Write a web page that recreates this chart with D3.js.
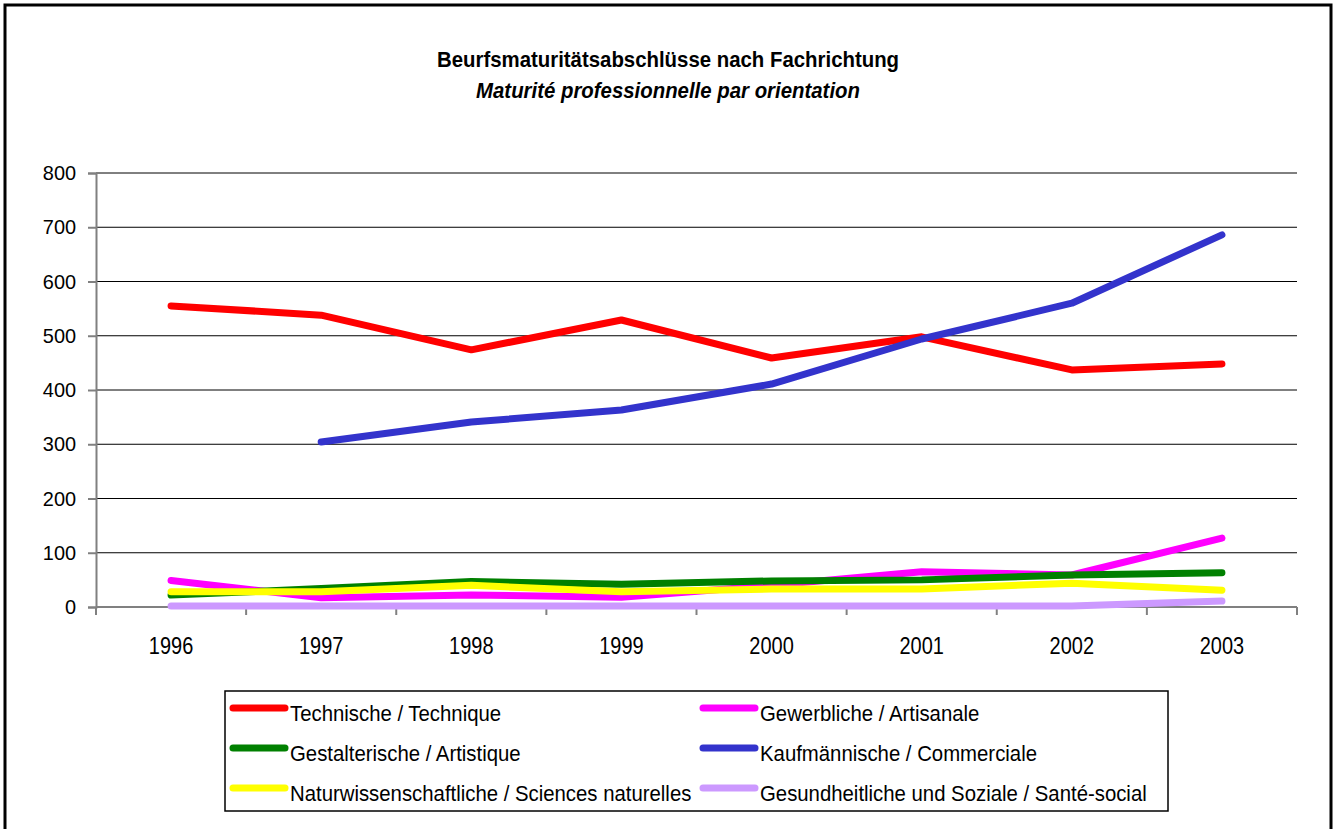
<!DOCTYPE html>
<html>
<head>
<meta charset="utf-8">
<script src="https://cdn.jsdelivr.net/npm/d3@7"></script>
<style>
  body { margin: 0; background: #fff; }
  text { font-family: "Liberation Sans", Arial, sans-serif; }
</style>
</head>
<body>
<script>
var years = ["1996", "1997", "1998", "1999", "2000", "2001", "2002", "2003"];
var yTicks = [0, 100, 200, 300, 400, 500, 600, 700, 800];

var technische      = [555, 538, 474, 529, 459, 498, 437, 448];
var gewerbliche     = [49, 17, 22, 18, 40, 65, 59, 127];
var gestalterische  = [22, 34, 47, 42, 48, 50, 59, 63];
var kaufmaennische  = [null, 304, 341, 363, 411, 494, 560, 686];
var naturwiss       = [28, 28, 40, 28, 33, 33, 44, 31];
var gesundheit      = [2, 2, 2, 2, 2, 2, 2, 11];

var seriesNames = [
  "Technische / Technique",
  "Gewerbliche / Artisanale",
  "Gestalterische / Artistique",
  "Kaufmännische / Commerciale",
  "Naturwissenschaftliche / Sciences naturelles",
  "Gesundheitliche und Soziale / Santé-social"
];
var seriesValues = [technische, gewerbliche, gestalterische, kaufmaennische, naturwiss, gesundheit];
var seriesColors = ["#ff0000", "#ff00ff", "#008000", "#3333cc", "#ffff00", "#cc99ff"];

var svg = d3.select("body").append("svg")
    .attr("width", 1338)
    .attr("height", 829);

// outer frame
svg.append("rect")
    .attr("x", 5).attr("y", 5)
    .attr("width", 1326).attr("height", 840)
    .attr("fill", "none")
    .attr("stroke", "#000")
    .attr("stroke-width", 3);

// the original text is drawn taller than wide, so squeeze it a bit
svg.append("text")
    .attr("transform", "translate(668,67) scale(0.887,1)")
    .attr("text-anchor", "middle")
    .attr("font-size", "23px")
    .attr("font-weight", "bold")
    .text("Beurfsmaturitätsabschlüsse nach Fachrichtung");

svg.append("text")
    .attr("transform", "translate(668,98) scale(0.887,1)")
    .attr("text-anchor", "middle")
    .attr("font-size", "23px")
    .attr("font-weight", "bold")
    .attr("font-style", "italic")
    .text("Maturité professionnelle par orientation");

var x = d3.scaleBand().domain(years).range([96, 1297]);
var y = d3.scaleLinear().domain([0, 800]).range([607, 173]);

// gridlines
svg.append("g").selectAll("line")
    .data(yTicks.slice(1))
    .enter().append("line")
    .attr("x1", 96).attr("x2", 1297)
    .attr("y1", function(d) { return y(d); })
    .attr("y2", function(d) { return y(d); })
    .attr("stroke", "#000")
    .attr("stroke-width", 1);

// y axis
var yAxis = svg.append("g")
    .attr("transform", "translate(96,0)")
    .call(d3.axisLeft(y).tickValues(yTicks).tickSize(8).tickPadding(13));
yAxis.selectAll("line, path").attr("stroke", "#808080").attr("stroke-width", 2);
yAxis.selectAll("text")
    .attr("font-size", "21px")
    .attr("fill", "#000")
    .attr("transform", "scale(0.95,1)");

// x axis, ticks between categories
var xAxis = svg.append("g")
    .attr("transform", "translate(0,607)");
xAxis.append("line")
    .attr("x1", 96).attr("x2", 1297)
    .attr("y1", 0).attr("y2", 0)
    .attr("stroke", "#808080").attr("stroke-width", 2);
xAxis.selectAll(".tk")
    .data(years.concat(["end"]))
    .enter().append("line")
    .attr("class", "tk")
    .attr("x1", function(d, i) { return i < years.length ? x(d) : x(years[years.length - 1]) + x.bandwidth(); })
    .attr("x2", function(d, i) { return i < years.length ? x(d) : x(years[years.length - 1]) + x.bandwidth(); })
    .attr("y1", 0).attr("y2", 8)
    .attr("stroke", "#808080").attr("stroke-width", 2);
xAxis.selectAll(".lbl")
    .data(years)
    .enter().append("text")
    .attr("class", "lbl")
    .attr("transform", function(d) { return "translate(" + (x(d) + x.bandwidth() / 2) + ",47) scale(0.85,1)"; })
    .attr("text-anchor", "middle")
    .attr("font-size", "23.5px")
    .text(function(d) { return d; });

var line = d3.line()
    .defined(function(d) { return d != null; })
    .x(function(d, i) { return x(years[i]) + x.bandwidth() / 2; })
    .y(function(d) { return y(d); });

svg.append("g").selectAll("path")
    .data(seriesValues)
    .enter().append("path")
    .attr("d", line)
    .attr("fill", "none")
    .attr("stroke", function(d, i) { return seriesColors[i]; })
    .attr("stroke-width", 7)
    .attr("stroke-linecap", "round")
    .attr("stroke-linejoin", "round");

// legend
var legend = svg.append("g");
legend.append("rect")
    .attr("x", 225).attr("y", 691)
    .attr("width", 943).attr("height", 120)
    .attr("fill", "#fff")
    .attr("stroke", "#000")
    .attr("stroke-width", 1.5);

var items = legend.selectAll(".item")
    .data(seriesNames)
    .enter().append("g")
    .attr("class", "item")
    .attr("transform", function(d, i) {
      return "translate(" + (i % 2 === 0 ? 233 : 703) + "," + (708 + Math.floor(i / 2) * 40) + ")";
    });
items.append("line")
    .attr("x1", 0).attr("x2", 52)
    .attr("y1", 0).attr("y2", 0)
    .attr("stroke", function(d, i) { return seriesColors[i]; })
    .attr("stroke-width", 7)
    .attr("stroke-linecap", "round");
items.append("text")
    .attr("transform", "translate(57,13) scale(0.885,1)")
    .attr("font-size", "23px")
    .text(function(d) { return d; });
</script>
</body>
</html>
